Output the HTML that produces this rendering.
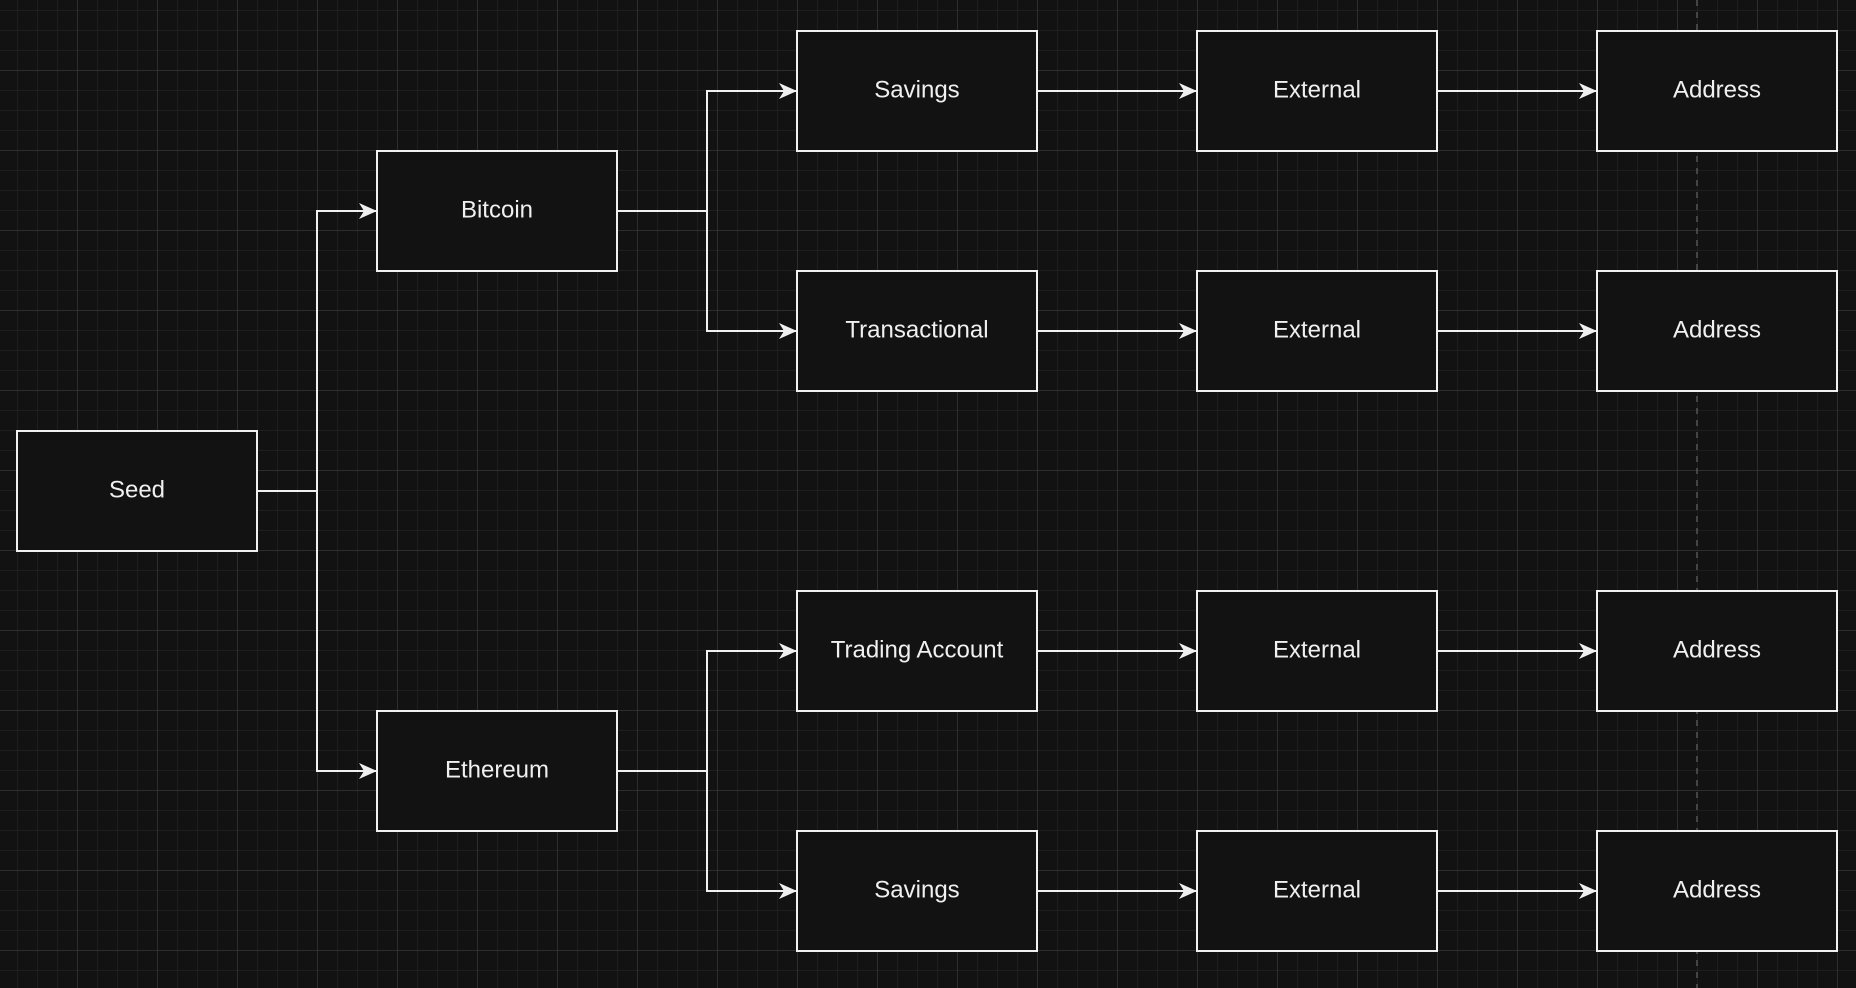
<!DOCTYPE html>
<html><head><meta charset="utf-8"><style>
html,body{margin:0;padding:0;background:#121212;}
svg{display:block}
text{font-family:"Liberation Sans",Arial,sans-serif;font-size:24px;fill:#f0f0f0;text-anchor:middle;dominant-baseline:central}
</style></head><body>
<svg width="1856" height="988" xmlns="http://www.w3.org/2000/svg">
<defs>
<pattern id="minor" x="17" y="10" width="20" height="20" patternUnits="userSpaceOnUse">
<path d="M0 0H20M0 0V20" stroke="#222" stroke-width="1.5" fill="none"/>
</pattern>
<pattern id="major" x="-3" y="-10" width="80" height="80" patternUnits="userSpaceOnUse">
<path d="M0 0H80M0 0V80" stroke="#404040" stroke-width="1" fill="none"/>
</pattern>
<marker id="a" markerWidth="18" markerHeight="16" refX="17" refY="8" orient="auto" markerUnits="userSpaceOnUse">
<path d="M0 0L18 8L0 16L5 8Z" fill="#f0f0f0"/>
</marker>
</defs>
<rect width="1856" height="988" fill="#121212"/>
<rect width="1856" height="988" fill="url(#minor)"/>
<rect width="1856" height="988" fill="url(#major)"/>
<line x1="1697" y1="0" x2="1697" y2="988" stroke="#555" stroke-width="1.5" stroke-dasharray="6,6"/>
<g stroke="#f0f0f0" stroke-width="2" fill="none">
<path d="M257 491H317V211H376" marker-end="url(#a)"/>
<path d="M317 491V771H376" marker-end="url(#a)"/>
<path d="M617 211H707V91H796" marker-end="url(#a)"/>
<path d="M707 211V331H796" marker-end="url(#a)"/>
<path d="M617 771H707V651H796" marker-end="url(#a)"/>
<path d="M707 771V891H796" marker-end="url(#a)"/>
<path d="M1037 91H1196" marker-end="url(#a)"/>
<path d="M1037 331H1196" marker-end="url(#a)"/>
<path d="M1037 651H1196" marker-end="url(#a)"/>
<path d="M1037 891H1196" marker-end="url(#a)"/>
<path d="M1437 91H1596" marker-end="url(#a)"/>
<path d="M1437 331H1596" marker-end="url(#a)"/>
<path d="M1437 651H1596" marker-end="url(#a)"/>
<path d="M1437 891H1596" marker-end="url(#a)"/>
</g>
<g fill="#121212" stroke="#f0f0f0" stroke-width="2">
<rect x="17" y="431" width="240" height="120"/>
<rect x="377" y="151" width="240" height="120"/>
<rect x="377" y="711" width="240" height="120"/>
<rect x="797" y="31" width="240" height="120"/>
<rect x="797" y="271" width="240" height="120"/>
<rect x="797" y="591" width="240" height="120"/>
<rect x="797" y="831" width="240" height="120"/>
<rect x="1197" y="31" width="240" height="120"/>
<rect x="1197" y="271" width="240" height="120"/>
<rect x="1197" y="591" width="240" height="120"/>
<rect x="1197" y="831" width="240" height="120"/>
<rect x="1597" y="31" width="240" height="120"/>
<rect x="1597" y="271" width="240" height="120"/>
<rect x="1597" y="591" width="240" height="120"/>
<rect x="1597" y="831" width="240" height="120"/>
</g>
<text x="137" y="490">Seed</text>
<text x="497" y="210">Bitcoin</text>
<text x="497" y="770">Ethereum</text>
<text x="917" y="90">Savings</text>
<text x="917" y="330">Transactional</text>
<text x="917" y="650">Trading Account</text>
<text x="917" y="890">Savings</text>
<text x="1317" y="90">External</text>
<text x="1317" y="330">External</text>
<text x="1317" y="650">External</text>
<text x="1317" y="890">External</text>
<text x="1717" y="90">Address</text>
<text x="1717" y="330">Address</text>
<text x="1717" y="650">Address</text>
<text x="1717" y="890">Address</text>
</svg>
</body></html>
